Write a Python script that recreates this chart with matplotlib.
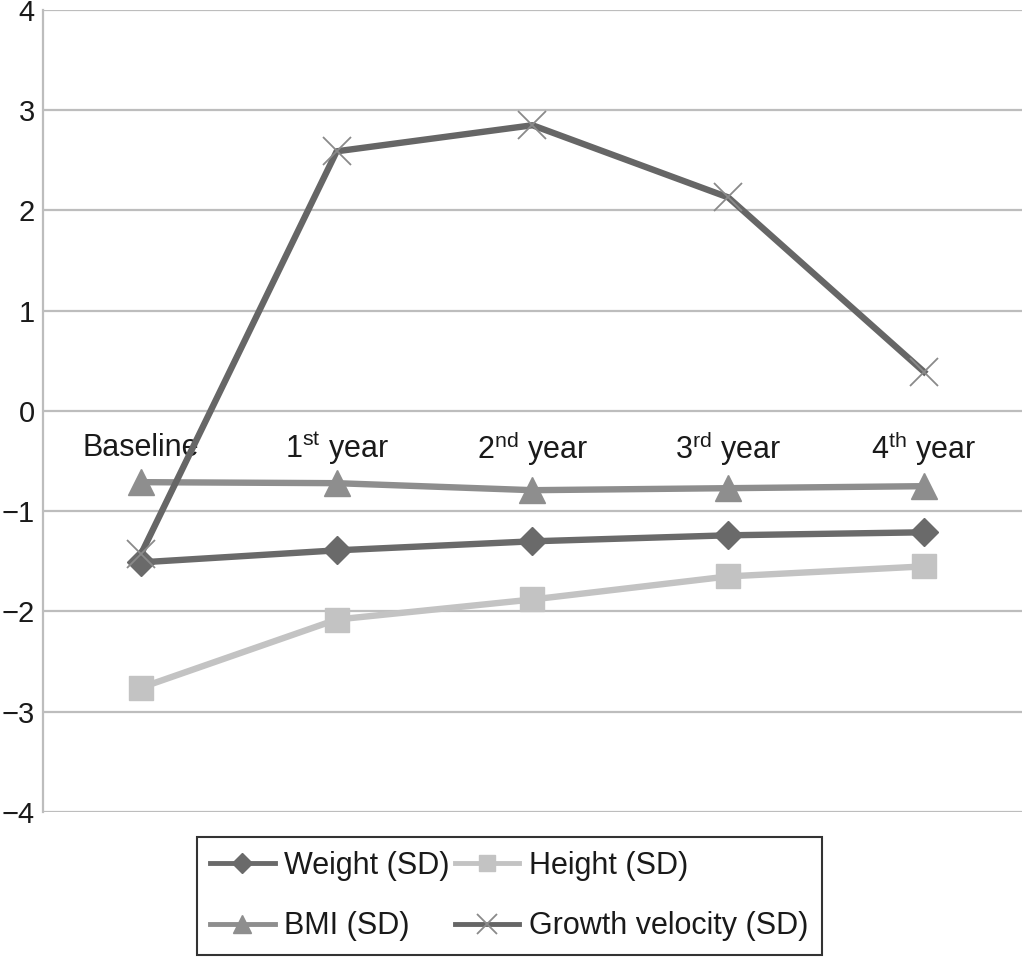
import numpy as np
import matplotlib
matplotlib.use("Agg")
import matplotlib.pyplot as plt

plt.rcParams['font.family'] = ['Liberation Sans', 'DejaVu Sans']
plt.rcParams['mathtext.fontset'] = 'custom'
plt.rcParams['mathtext.rm'] = 'Liberation Sans'
plt.rcParams['mathtext.it'] = 'Liberation Sans'

categories = ['Baseline', r'1$^{\mathrm{st}}$ year', r'2$^{\mathrm{nd}}$ year',
              r'3$^{\mathrm{rd}}$ year', r'4$^{\mathrm{th}}$ year']
weight = [-1.51, -1.39, -1.30, -1.24, -1.21]
height = [-2.76, -2.08, -1.88, -1.65, -1.55]
bmi = [-0.71, -0.72, -0.79, -0.77, -0.75]
growth_velocity = [-1.43, 2.59, 2.85, 2.13, 0.39]
yticks = [-4, -3, -2, -1, 0, 1, 2, 3, 4]

fig = plt.figure(figsize=(10.24, 9.57), dpi=100)
ax = fig.add_axes([0.042, 0.1515, 0.956, 0.8381])

x = np.arange(len(categories))
grid_c = '#bdbdbd'
text_c = '#1a1a1a'

ax.plot(x, weight, color='#6a6a6a', lw=4.6, marker='D', markersize=14,
        label='Weight (SD)', zorder=4)
ax.plot(x, height, color='#c3c3c3', lw=4.6, marker='s', markersize=17,
        label='Height (SD)', zorder=3)
ax.plot(x, bmi, color='#8e8e8e', lw=4.6, marker='^', markersize=19,
        label='BMI (SD)', zorder=3)
ax.plot(x, growth_velocity, color='#666666', lw=4.6, marker='x', markersize=20,
        markeredgewidth=1.3, markeredgecolor='#8a8a8a',
        label='Growth velocity (SD)', zorder=5)

ax.set_ylim(-4, 4)
ax.set_xlim(-0.5, len(categories) - 0.5)
ax.set_yticks(yticks)
ax.set_yticklabels([str(v).replace('-', '\u2212') for v in yticks],
                   fontsize=21, color=text_c)
ax.yaxis.grid(True, color=grid_c, lw=1.6)
ax.set_axisbelow(True)
ax.tick_params(axis='y', length=0, pad=6)
ax.set_xticks([])
for i, c in enumerate(categories):
    ax.text(i, -0.37, c, ha='center', va='center', fontsize=22, color=text_c)

for s in ['top', 'right', 'bottom']:
    ax.spines[s].set_visible(False)
ax.spines['left'].set_color(grid_c)
ax.spines['left'].set_linewidth(1.6)

# legend rows: Weight, Height / BMI, Growth velocity (columns fill first)
h, l = ax.get_legend_handles_labels()
order = [0, 2, 1, 3]
leg = fig.legend([h[i] for i in order], [l[i] for i in order],
                 loc='lower left', ncol=2,
                 bbox_to_anchor=(0.192, 0.002), fontsize=22,
                 frameon=True, fancybox=False, edgecolor='black',
                 handlelength=2.1, handletextpad=0.3, columnspacing=0.2,
                 labelspacing=1.0, borderpad=0.45, borderaxespad=0,
                 markerscale=0.7)
leg.get_frame().set_linewidth(1.5)
for t in leg.get_texts():
    t.set_color(text_c)
for lh in leg.get_lines():
    lh.set_linewidth(3.5)

fig.savefig('out.png', dpi=100)
